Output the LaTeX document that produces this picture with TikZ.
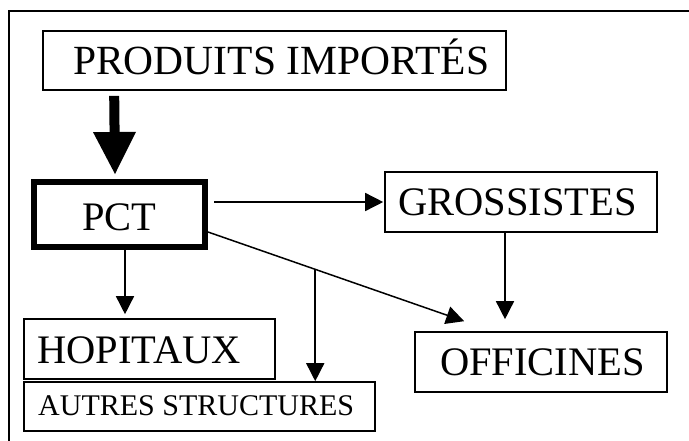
\documentclass[tikz,border=0pt]{standalone}
\usepackage{fontspec}
\setmainfont{Liberation Serif}
\usetikzlibrary{arrows.meta,calc}
\tikzset{
  box/.style={draw, line width=1.6pt, rectangle, inner sep=0pt},
  thickbox/.style={draw, line width=6pt, rectangle, inner sep=0pt},
  lbl/.style={anchor=base west, inner sep=0pt, font=\fontsize{40.5}{48}\selectfont},
  smalllbl/.style={anchor=base west, inner sep=0pt, font=\fontsize{30}{36}\selectfont},
  conn/.style={line width=1.5pt, -{Triangle[width=18pt,length=18pt]}},
  bigconn/.style={line width=10pt, -{Triangle[width=43pt,length=42pt,line width=0pt]}},
}
\begin{document}
\begin{tikzpicture}[x=1pt,y=-1pt]
\useasboundingbox (0,0) rectangle (689,440);
\draw[line width=2pt] (9,450) -- (9,11) -- (700,11);

\node[box, minimum width=463pt, minimum height=59pt] (prod) at (274.5,60.5) {};
\node[thickbox, minimum width=171pt, minimum height=65pt] (pct) at (119.5,214.5) {};
\node[box, minimum width=272pt, minimum height=60pt] (gros) at (521,202) {};
\node[box, minimum width=252pt, minimum height=60pt] (offi) at (541,362) {};
\node[box, minimum width=251pt, minimum height=60pt] (hop) at (149.5,349) {};
\node[box, minimum width=351pt, minimum height=49pt] (aut) at (199.5,406.5) {};

\node[lbl, font=\fontsize{41.5}{48}\selectfont] (tprod) at (73,74) {PRODUITS IMPORTÉS};
\node[lbl] (tpct) at (82,230) {PCT};
\node[lbl] (tgros) at (398,215) {GROSSISTES};
\node[lbl] (toffi) at (440,375) {OFFICINES};
\node[lbl] (thop) at (37,363) {HOPITAUX};
\node[smalllbl] (taut) at (38,415) {AUTRES STRUCTURES};

% big arrow
\draw[bigconn] ($(prod.south west)+(72,5)$) -- ($(pct.north west)+(84,-5)$);

% thin arrows
\draw[conn] ([xshift=6pt]pct.east |- gros.west) -- ([xshift=-1pt]gros.west);
\draw[conn] ([xshift=-16pt]gros.south) -- ([xshift=-16pt,yshift=12pt]gros.south |- offi.north);
\coordinate (ds) at ([yshift=18pt]pct.south east);
\coordinate (de) at ([xshift=50pt,yshift=10pt]offi.north west);
\draw[conn] (ds) -- (de);
\coordinate (bt) at ($(ds)!0.4186!(de)$);
\draw[conn] (bt) -- (bt |- aut.north);
\draw[conn] ([xshift=5.5pt]pct.south) -- ([xshift=5.5pt,yshift=4pt]pct.south |- hop.north);
\end{tikzpicture}
\end{document}
